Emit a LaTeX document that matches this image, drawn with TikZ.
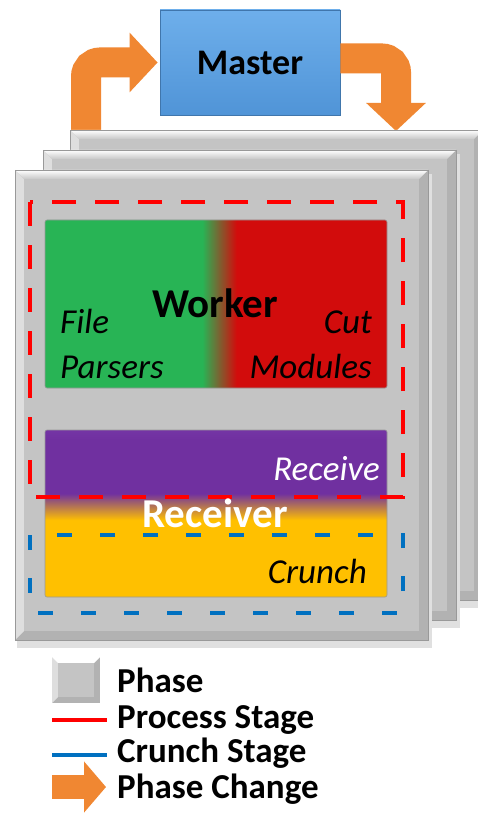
\documentclass[tikz,border=0pt]{standalone}
\usepackage{fontspec}
\setmainfont{Carlito}
\usetikzlibrary{arrows.meta}

\definecolor{masterblue}{RGB}{80,148,215}
\definecolor{masterlight}{RGB}{110,175,235}
\definecolor{phaseorange}{RGB}{240,135,50}
\definecolor{workergreen}{RGB}{40,180,85}
\definecolor{workerred}{RGB}{210,12,12}
\definecolor{receivepurple}{RGB}{112,48,160}
\definecolor{lightpurple}{RGB}{150,90,205}
\definecolor{crunchyellow}{RGB}{255,192,0}
\definecolor{processred}{RGB}{255,0,0}
\definecolor{crunchblue}{RGB}{0,112,192}
\definecolor{plateface}{RGB}{196,196,196}
\definecolor{platelight}{RGB}{222,222,222}
\definecolor{platedark}{RGB}{178,178,178}

\pgfdeclarehorizontalshading{workershade}{100bp}{color(0bp)=(workergreen); color(48bp)=(workergreen); color(53bp)=(workerred); color(100bp)=(workerred)}
\pgfdeclareverticalshading{receivershade}{100bp}{color(0bp)=(crunchyellow); color(48bp)=(crunchyellow); color(56bp)=(receivepurple); color(72bp)=(receivepurple); color(100bp)=(lightpurple)}

\begin{document}
\begin{tikzpicture}[x=1pt,y=-1pt,
	masterbox/.style={draw=masterblue!80!black, line width=0.8pt, top color=masterlight, bottom color=masterblue, minimum width=180pt, minimum height=105pt, font=\fontsize{36}{40}\selectfont\bfseries},
	stagebox/.style={draw=black!40, line width=0.6pt, rounded corners=2pt, minimum width=342pt, inner sep=0pt},
	phasechange/.style={draw=phaseorange, line width=30pt, rounded corners=14pt, -{Triangle[width=58pt,length=28pt]}},
	boldlabel/.style={font=\fontsize{41}{44}\selectfont\bfseries, inner sep=0pt, anchor=base},
	itlabel/.style={font=\fontsize{35}{38}\selectfont\itshape, inner sep=0pt},
	legendlabel/.style={font=\fontsize{35}{38}\selectfont\bfseries, inner sep=0pt, anchor=base west},
	stageline/.style={line width=4.5pt}]
	\useasboundingbox[fill=white] (0,0) rectangle (478,826);

	% master and phase changes
	\node[masterbox] (master) at (250,62.5) {Master};
	\coordinate (leftfoot) at (86,131);
	\coordinate (rightfoot) at (396,131);
	\draw[phasechange] (leftfoot) |- ([xshift=-2pt]master.west);
	\draw[phasechange] ([yshift=4pt]master.east) -| (rightfoot);

	% phases
	\foreach \dx/\dy in {55/-40, 28/-20, 0/0} {
		\begin{scope}[shift={(\dx,\dy)}]
			\fill[black!12] (17,174) rectangle (432,648);
			\fill[platedark] (15,170) rectangle (428,640);
			\fill[platelight] (15,170) -- (24,179) -- (24,631) -- (15,640) -- cycle;
			\shade[top color=white, bottom color=platelight!90!black] (15,170) -- (428,170) -- (419,179) -- (24,179) -- cycle;
			\fill[plateface] (24,179) rectangle (419,631);
			\draw[black!40, line width=0.6pt] (15,170) rectangle (428,640);
		\end{scope}
	}

	% stages
	\node[stagebox, minimum height=168pt, shading=workershade] (worker) at (216,304) {};
	\node[stagebox, minimum height=167pt, shading=receivershade] (receiver) at (216,513.5) {};

	\draw[processred, stageline, dash pattern=on 24pt off 19pt] (30,202) rectangle (403,497);
	\draw[crunchblue, stageline, dash pattern=on 15pt off 28pt] (30,535) rectangle (403,613);

	\node[boldlabel] (workerlabel) at (215,317) {Worker};
	\node[itlabel, anchor=base west] (file) at (60,333) {File};
	\node[itlabel, anchor=base west] (parsers) at (60,378) {Parsers};
	\node[itlabel, anchor=base east] (cut) at (372,333) {Cut};
	\node[itlabel, anchor=base east] (modules) at (372,378) {Modules};

	\node[itlabel, anchor=base east, text=white] (receive) at (380,480) {Receive};
	\node[boldlabel, text=white] (receiverlabel) at (215,527) {Receiver};
	\node[itlabel, anchor=base east] (crunch) at (367,583) {Crunch};

	% legend
	\fill[platedark] (52,657) rectangle (100,703);
	\fill[platelight] (52,657) -- (58,663) -- (58,697) -- (52,703) -- cycle;
	\fill[white] (52,657) -- (100,657) -- (94,663) -- (58,663) -- cycle;
	\fill[plateface] (58,663) rectangle (94,697);
	\node[legendlabel] (phase) at (117,692) {Phase};
	\draw[processred, stageline] (52,720) -- (107,720);
	\node[legendlabel] (process) at (117,728) {Process Stage};
	\draw[crunchblue, stageline] (52,755) -- (107,755);
	\node[legendlabel] (crunchstage) at (117,762) {Crunch Stage};
	\draw[draw=phaseorange, line width=24pt, -{Triangle[width=50pt,length=22pt]}] (52,787) -- (106,787);
	\node[legendlabel] (change) at (117,798) {Phase Change};
\end{tikzpicture}
\end{document}
